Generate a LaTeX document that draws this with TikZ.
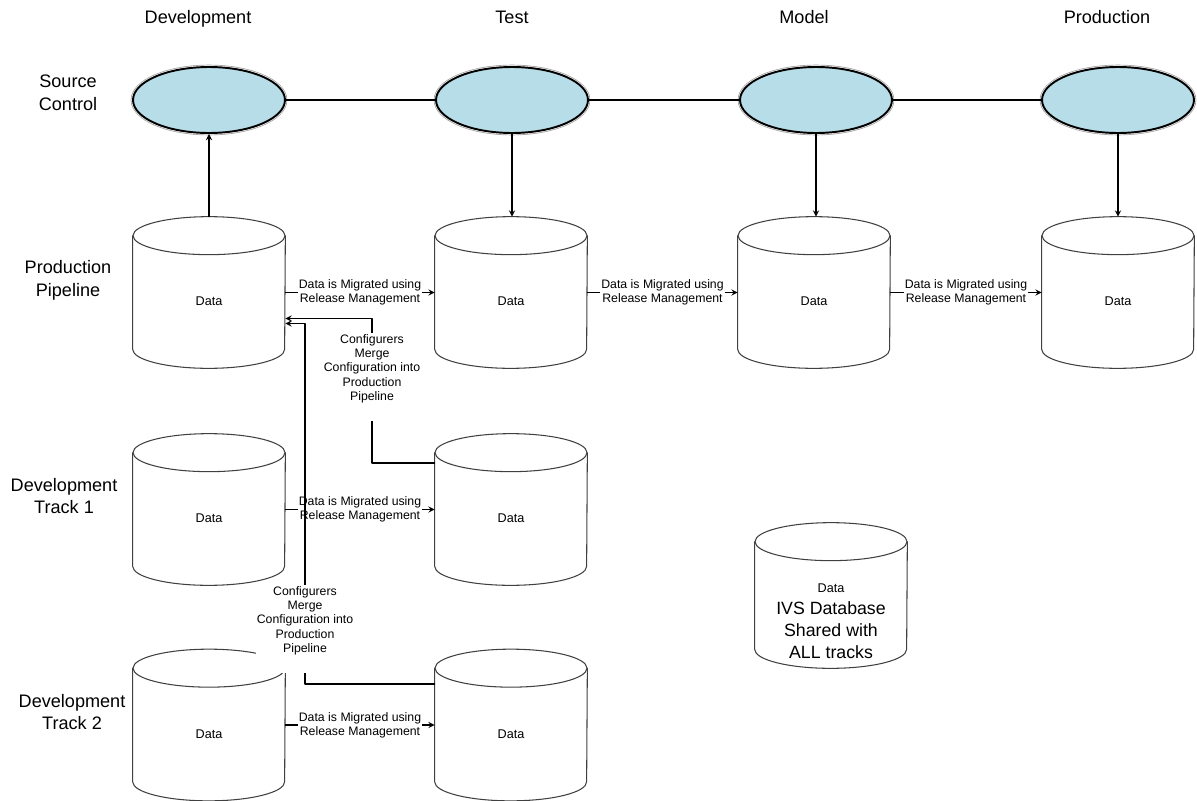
\documentclass[tikz,border=0pt]{standalone}
\usepackage{fontspec}
\setmainfont{Liberation Sans}
\usetikzlibrary{shapes.geometric}
\definecolor{srcblue}{RGB}{183,221,232}
% outline of a data store round the node #1
\newcommand{\dbdrum}[1]{%
  \draw[dbline] ([yshift=-0.38cm]#1.north) ellipse [x radius=1.52cm,y radius=0.38cm];
  \draw[dbline] ([yshift=-0.38cm]#1.north west) -- ([yshift=0.38cm]#1.south west)
    arc [start angle=180,end angle=360,x radius=1.52cm,y radius=0.38cm] -- ([yshift=-0.38cm]#1.north east);}

\begin{document}
\begin{tikzpicture}[x=0.02cm,y=-0.02cm,line cap=round,line join=round,>=stealth,
  every node/.style={inner sep=1pt},
  hdr/.style={font=\fontsize{10.3}{13}\selectfont,align=center},
  repo/.style={ellipse,draw=black,line width=1.1pt,fill=srcblue,minimum width=3.04cm,minimum height=1.32cm,inner sep=0pt,
    preaction={draw=black!40,line width=2.6pt},preaction={draw=white,line width=1.8pt}},
  db/.style={rectangle,minimum width=3.04cm,minimum height=3.02cm,inner sep=0pt,
    font=\fontsize{7.2}{8.6}\selectfont,text height=14.8pt,text depth=0pt},
  dbline/.style={draw=black!75,line width=0.6pt},
  note/.style={font=\fontsize{7}{8.1}\selectfont,align=center,fill=white,inner sep=0.6pt},
  link/.style={line width=0.6pt}]
  \useasboundingbox (0,0) rectangle (1197,801);
  % column and row headings
  \node[hdr,anchor=base] (hdrdev) at (198,23) {Development};
  \node[hdr,anchor=base] (hdrtest) at (512,23) {Test};
  \node[hdr,anchor=base] (hdrmodel) at (804,23) {Model};
  \node[hdr,anchor=base] (hdrprod) at (1107,23) {Production};
  \node[hdr] (rowsrc) at (68,93) {Source\\Control};
  \node[hdr] (rowpp) at (68,280) {Production\\Pipeline};
  \node[hdr] (rowtra) at (64,496) {Development\\Track 1};
  \node[hdr] (rowtrb) at (72,712) {Development\\Track 2};
  % source control
  \node[repo] (srcdev) at (209,100) {};
  \node[repo] (srctest) at (512,100) {};
  \node[repo] (srcmodel) at (816,100) {};
  \node[repo] (srcprod) at (1118,100) {};
  \draw[link] (srcdev) -- (srctest);
  \draw[link] (srctest) -- (srcmodel);
  \draw[link] (srcmodel) -- (srcprod);
  % data stores
  \node[db] (ppdev) at (209,292.5) {Data};
  \node[db] (pptest) at (511,292.5) {Data};
  \node[db] (ppmodel) at (814,292.5) {Data};
  \node[db] (ppprod) at (1118,292.5) {Data};
  \node[db] (tradev) at (209,509.5) {Data};
  \node[db] (tratest) at (511,509.5) {Data};
  \node[db] (trbdev) at (209,725) {Data};
  \node[db] (trbtest) at (511,725) {Data};
  \node[db,minimum height=2.9cm] (ivs) at (831,595.5) {};
  \foreach \s in {ppdev,pptest,ppmodel,ppprod,tradev,tratest,trbdev,trbtest,ivs}
    {\dbdrum{\s}}
  \node[font=\fontsize{10.1}{12.6}\selectfont,align=center] (ivstext) at (831,621)
    {{\fontsize{7.2}{8}\selectfont Data}\\IVS Database\\Shared with\\ALL tracks};
  % check in and deploy
  \draw[link,->] (ppdev.north) -- (srcdev.south);
  \draw[link,->] (srctest.south) -- (srctest.south |- pptest.north);
  \draw[link,->] (srcmodel.south) -- (srcmodel.south |- ppmodel.north);
  \draw[link,->] (srcprod.south) -- (ppprod.north);
  % release management
  \draw[link,->] (ppdev.east) -- node[note] {Data is Migrated using\\Release Management} (pptest.west);
  \draw[link,->] (pptest.east) -- node[note] {Data is Migrated using\\Release Management} (ppmodel.west);
  \draw[link,->] (ppmodel.east) -- node[note] {Data is Migrated using\\Release Management} (ppprod.west);
  \draw[link,->] (tradev.east) -- node[note] {Data is Migrated using\\Release Management} (tratest.west);
  \draw[link,->] (trbdev.east) -- node[note] {Data is Migrated using\\Release Management} (trbtest.west);
  % merge back into the pipeline
  \coordinate (mrga) at (372,463);
  \coordinate (mrgb) at (305,684);
  \draw[link,->] (tratest.west |- mrga) -- (mrga) |- ([yshift=-0.52cm]ppdev.east);
  \draw[link,->] (trbtest.west |- mrgb) -- (mrgb) |- ([yshift=-0.62cm]ppdev.east);
  \node[note,anchor=north,text depth=11pt] (cfga) at (372,333)
    {Configurers\\Merge\\Configuration into\\Production\\Pipeline};
  \node[note,anchor=north,text depth=11pt] (cfgb) at (305,585)
    {Configurers\\Merge\\Configuration into\\Production\\Pipeline};
\end{tikzpicture}
\end{document}
